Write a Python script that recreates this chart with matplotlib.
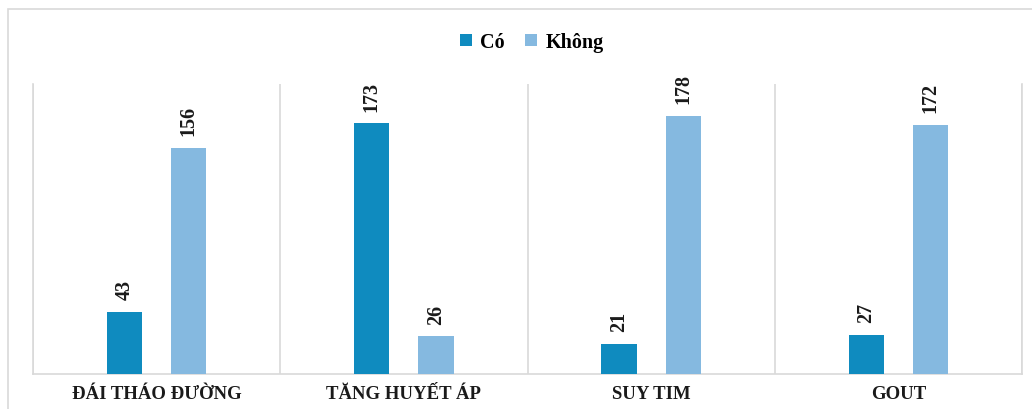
import matplotlib
matplotlib.use("Agg")
import matplotlib.pyplot as plt
from matplotlib.patches import Rectangle
import numpy as np

categories = ["ĐÁI THÁO ĐƯỜNG", "TĂNG HUYẾT ÁP", "SUY TIM", "GOUT"]
co_values = [43, 173, 21, 27]
khong_values = [156, 26, 178, 172]
series_names = ["Có", "Không"]

c_co = "#0F8BBF"
c_khong = "#85B9E0"
grid_c = "#D9D9D9"

plt.rcParams['font.family'] = ['Liberation Serif', 'DejaVu Serif']

fig = plt.figure(figsize=(10.32, 4.10), dpi=100)
W, H = 1032, 410
ax = fig.add_axes([33 / W, 1 - 375 / H, (1022 - 33) / W, (375 - 85) / H])

# outer chart border
fig.patches.append(Rectangle((8 / W, -0.05), 1.2, 1 - 10 / H + 0.05,
                             transform=fig.transFigure, fill=False,
                             edgecolor=grid_c, linewidth=1.2, zorder=0))

x = np.arange(len(categories))
bw = 0.142
off = 0.13
b1 = ax.bar(x - off, co_values, bw, color=c_co, label=series_names[0], zorder=3)
b2 = ax.bar(x + off, khong_values, bw, color=c_khong, label=series_names[1], zorder=3)

for bars in (b1, b2):
    for r in bars:
        ax.annotate(f"{int(r.get_height())}",
                    (r.get_x() + r.get_width() / 2, r.get_height()),
                    xytext=(0, 9), textcoords="offset points",
                    rotation=90, ha="center", va="bottom",
                    fontsize=14.5, fontweight="bold", color="#1a1a1a")

ax.set_xlim(-0.5, len(categories) - 0.5)
ax.set_ylim(0, 200)
ax.set_yticks([])
ax.set_xticks(x)
ax.set_xticklabels(categories, fontsize=13.5, fontweight="bold", color="#1a1a1a")
ax.tick_params(axis="x", length=0, pad=8)
ax.set_xticks(np.arange(-0.5, len(categories)), minor=True)
ax.tick_params(axis="x", which="minor", length=0)
ax.grid(axis="x", which="minor", color=grid_c, linewidth=1.2, zorder=0)

for s in ["top"]:
    ax.spines[s].set_visible(False)
for s in ["left", "right", "bottom"]:
    ax.spines[s].set_color(grid_c)
    ax.spines[s].set_linewidth(1.2)

leg = fig.legend(handles=[b1, b2], labels=series_names, loc="center",
                 bbox_to_anchor=(532 / W, 1 - 43 / H), ncol=2, frameon=False,
                 prop={'family': ['Liberation Serif'], 'weight': 'bold', 'size': 14.5},
                 handlelength=0.6, handleheight=0.6, handletextpad=0.4,
                 columnspacing=1.0)

fig.savefig("out.png", dpi=100)
